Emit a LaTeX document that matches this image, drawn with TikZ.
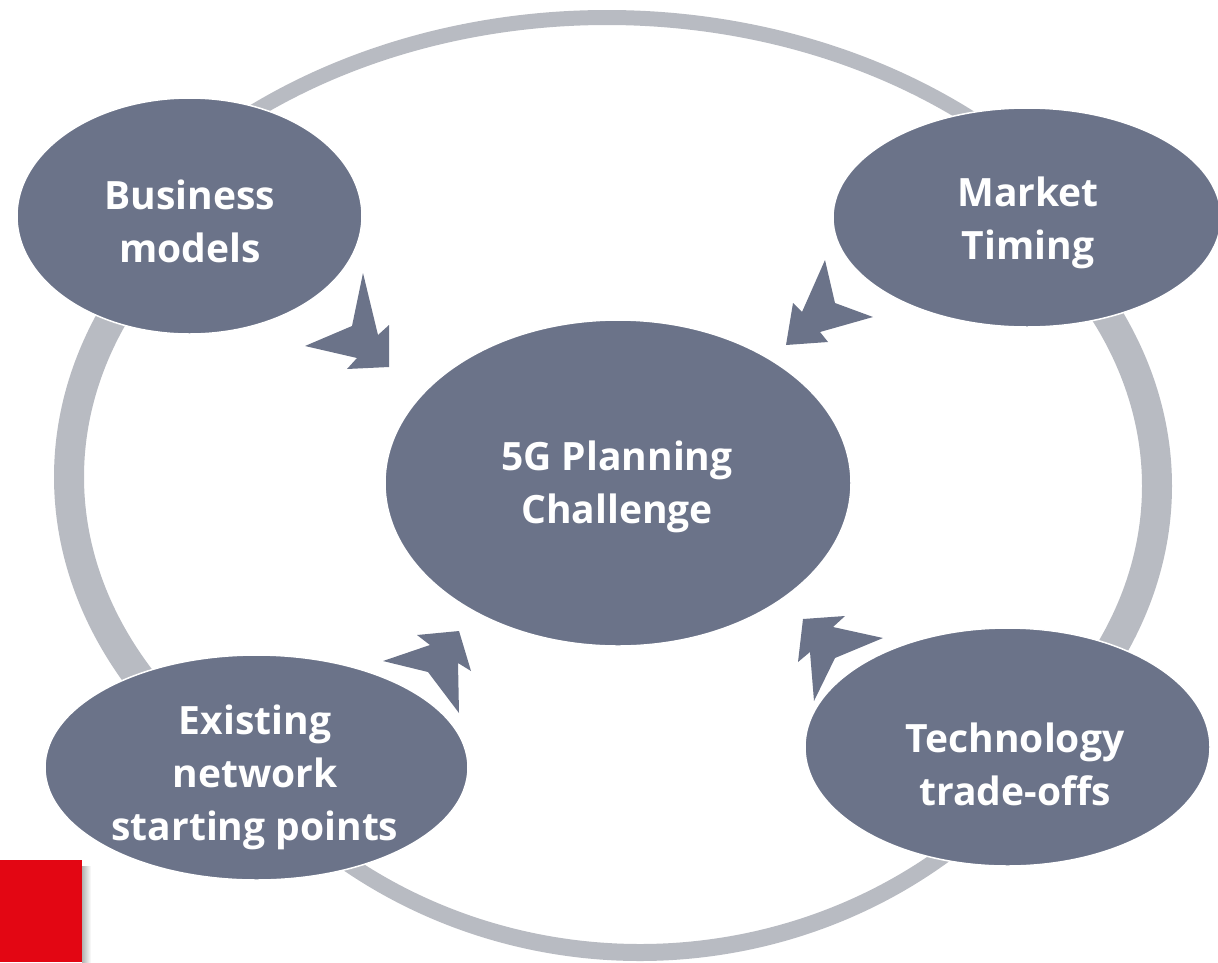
\documentclass[tikz,border=0pt]{standalone}
\usepackage{fontspec}
\setmainfont{Open Sans}
\usetikzlibrary{shapes.geometric,calc}
\definecolor{nodefill}{HTML}{6B7389}
\definecolor{ringgray}{HTML}{B8BBC2}
\definecolor{redbox}{HTML}{E30613}
% ring segment: center, outer rx, outer ry, inner rx, inner ry, start angle, end angle
\newcommand{\ringseg}[7]{%
  \fill[ringgray] ($#1+(#6:#2pt and #3pt)$) arc[start angle=#6, end angle=#7, x radius=#2pt, y radius=#3pt]
    -- ($#1+(#7:#4pt and #5pt)$) arc[start angle=#7, end angle=#6, x radius=#4pt, y radius=#5pt] -- cycle;}
\begin{document}
\begin{tikzpicture}[x=1pt,y=-1pt,
  bubble/.style={ellipse, fill=nodefill, draw=white, line width=1.5pt, inner sep=0pt},
  label text/.style={text=white, align=center, font=\bfseries\fontsize{39}{53}\selectfont},
  pointer/.style={fill=nodefill}]
\useasboundingbox (0,0) rectangle (1218,962);
% ring segments (ends hidden under the bubbles)
\ringseg{(607,485)}{594}{475}{579}{460}{45}{135}
\ringseg{(613,477)}{559}{425}{529}{392}{150}{215}
\ringseg{(613,486)}{559}{424}{529}{391}{-30}{32}
\ringseg{(640,485)}{505}{476}{490}{459}{215}{325}
% bubbles
\node[bubble, minimum width=345pt, minimum height=236pt] (bm) at (189.5,216) {};
\node[bubble, minimum width=388pt, minimum height=219pt] (mt) at (1027,217.5) {};
\node[bubble, minimum width=466pt, minimum height=326pt] (ch) at (618,483) {};
\node[bubble, minimum width=423pt, minimum height=225pt] (en) at (256.5,767.5) {};
\node[bubble, minimum width=405pt, minimum height=238pt] (tt) at (1007.5,747) {};
% texts
\node[label text] (bmt) at (190,221) {Business\\models};
\node[label text] (mtt) at (1028,223) {Market\\Timing};
\node[label text] (cht) at (617,487) {5G Planning\\Challenge};
\node[label text] (ent) at (255,777) {Existing\\network\\starting points};
\node[label text] (ttt) at (1015,764) {Technology\\trade-offs};
% pointers
\fill[pointer] (363,273) -- (352,326) -- (305,346) -- (357,358) -- (347,369) -- (389,367) -- (389,325) -- (378,335) -- cycle;
\fill[pointer] (825,260) -- (835,303) -- (873,317) -- (820,332) -- (828,342) -- (786,345) -- (793,303) -- (802,312) -- cycle;
\fill[pointer] (383,661) -- (428,672) -- (459,713) -- (458,663) -- (471,671) -- (459,631) -- (417,635) -- (430,645) -- cycle;
\fill[pointer] (883,638) -- (835,658) -- (814,701) -- (810,652) -- (798,662) -- (803,619) -- (845,616) -- (833,627) -- cycle;
% red square with shadow
\shade[left color=black!30, right color=white] (82,866) rectangle (91,962);
\fill[redbox] (0,860) rectangle (82,962);
\end{tikzpicture}
\end{document}
